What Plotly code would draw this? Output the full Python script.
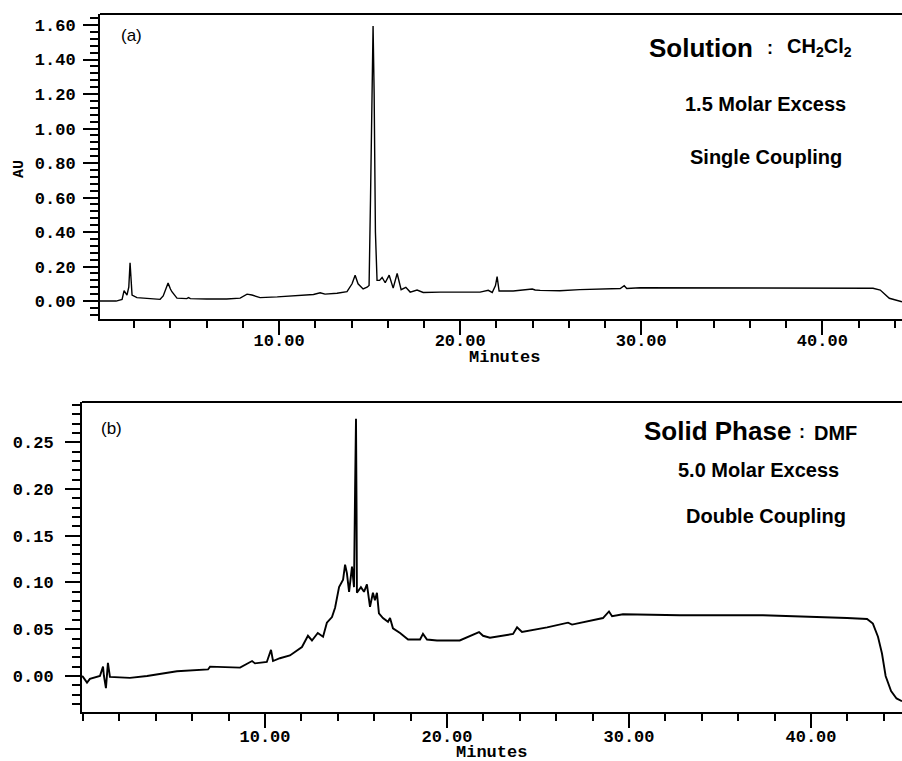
import plotly.graph_objects as go

# ---- Data ----
# (a) Solution : CH2Cl2
a_time = [0.11, 1.0, 1.33, 1.44, 1.6, 1.7, 1.77, 1.83, 1.88, 2.15, 2.87, 3.43, 3.6, 3.7,
          3.87, 4.0, 4.08, 4.36, 4.9, 5.0, 5.1, 6.0, 7.1, 7.85, 8.1, 8.23, 8.5, 8.95,
          9.9, 11.0, 11.9, 12.27, 12.54, 13.2, 13.75, 14.03, 14.2, 14.36, 14.64, 14.86,
          14.97, 15.05, 15.12, 15.19, 15.25, 15.32, 15.41, 15.55, 15.69, 15.86, 16.08,
          16.3, 16.52, 16.74, 17.0, 17.24, 17.62, 17.96, 18.9, 21.1, 21.55, 21.77,
          21.95, 22.04, 22.15, 22.93, 23.98, 24.14, 24.42, 25.5, 26.6, 28.84, 29.06,
          29.2, 29.94, 35.47, 42.8, 43.2, 43.7, 44.4]
a_au = [0.0, 0.0, 0.01, 0.06, 0.035, 0.08, 0.222, 0.08, 0.035, 0.02, 0.014, 0.01, 0.03, 0.054,
        0.104, 0.07, 0.054, 0.017, 0.014, 0.02, 0.014, 0.012, 0.012, 0.017, 0.035, 0.04, 0.035, 0.02,
        0.024, 0.03, 0.038, 0.048, 0.04, 0.045, 0.055, 0.1, 0.15, 0.1, 0.07, 0.08,
        0.09, 0.6, 1.3, 1.594, 1.2, 0.4, 0.12, 0.12, 0.137, 0.106, 0.15,
        0.075, 0.16, 0.066, 0.08, 0.052, 0.064, 0.05, 0.052, 0.052, 0.062, 0.05,
        0.09, 0.142, 0.058, 0.058, 0.07, 0.064, 0.062, 0.06, 0.066, 0.073, 0.089,
        0.073, 0.077, 0.075, 0.074, 0.064, 0.016, -0.004]

# (b) Solid Phase : DMF
b_time = [-0.05, 0.0, 0.22, 0.38, 0.93, 1.1, 1.15, 1.26, 1.37, 1.48, 2.58, 3.52, 5.16, 6.43,
          6.87, 6.98, 8.63, 9.29, 9.45, 10.1, 10.33, 10.44, 10.82, 11.37, 12.03, 12.36,
          12.58, 12.9, 13.19, 13.4, 13.68, 13.85, 14.07, 14.29, 14.4, 14.5, 14.62, 14.78,
          14.89, 14.95, 15.0, 15.03, 15.05, 15.27, 15.44, 15.6, 15.77, 15.93, 16.04, 16.15,
          16.26, 16.48, 16.76, 16.87, 17.03, 17.42, 17.86, 18.52, 18.68, 18.9, 19.45, 20.7,
          21.4, 21.76, 21.98, 22.36, 23.63, 23.85, 24.12, 25.5, 26.65, 26.87, 28.57, 28.9,
          29.07, 29.67, 32.8, 37.36, 41.98, 43.08, 43.4, 43.68, 43.9, 44.1, 44.4, 44.7, 45.0]
b_au = [0.0, -0.001, -0.007, -0.003, 0.0, 0.01, 0.0, -0.013, 0.014, -0.001, -0.002, 0.0, 0.005, 0.006,
        0.007, 0.01, 0.009, 0.016, 0.0135, 0.015, 0.028, 0.016, 0.019, 0.022, 0.031, 0.043,
        0.038, 0.046, 0.042, 0.057, 0.063, 0.073, 0.095, 0.103, 0.119, 0.11, 0.09, 0.117,
        0.095, 0.2, 0.275, 0.18, 0.089, 0.095, 0.09, 0.098, 0.074, 0.089, 0.081, 0.089,
        0.067, 0.062, 0.058, 0.062, 0.051, 0.046, 0.039, 0.039, 0.045, 0.039, 0.038, 0.038,
        0.044, 0.047, 0.043, 0.041, 0.045, 0.052, 0.047, 0.052, 0.057, 0.055, 0.062, 0.069,
        0.064, 0.066, 0.065, 0.065, 0.062, 0.061, 0.056, 0.042, 0.024, 0.0, -0.016, -0.024, -0.027]

x_ticks = [10, 20, 30, 40]
x_tick_labels = ["10.00", "20.00", "30.00", "40.00"]
a_y_ticks = [0.0, 0.2, 0.4, 0.6, 0.8, 1.0, 1.2, 1.4, 1.6]
a_y_labels = ["0.00", "0.20", "0.40", "0.60", "0.80", "1.00", "1.20", "1.40", "1.60"]
b_y_ticks = [0.0, 0.05, 0.10, 0.15, 0.20, 0.25]
b_y_labels = ["0.00", "0.05", "0.10", "0.15", "0.20", "0.25"]

W, H = 902, 761
def px(x):
    return x / W
def py(y):
    return 1 - y / H

MONO = "Liberation Mono, Courier New, monospace"
SANS = "Liberation Sans, Arial, Helvetica, sans-serif"

fig = go.Figure()
fig.add_trace(go.Scatter(x=a_time, y=a_au, mode="lines", xaxis="x", yaxis="y",
                         line=dict(color="black", width=1.4), showlegend=False))
fig.add_trace(go.Scatter(x=b_time, y=b_au, mode="lines", xaxis="x2", yaxis="y2",
                         line=dict(color="black", width=1.9), showlegend=False))

tickfont = dict(family=MONO, size=17, color="black", weight="bold")

def xaxis(domain, anchor, rng, standoff):
    return dict(domain=domain, anchor=anchor, range=rng, tickvals=x_ticks, ticktext=x_tick_labels,
                ticks="outside", ticklen=14, tickwidth=1.6, tickcolor="black",
                showline=True, linecolor="black", linewidth=2, showgrid=False, zeroline=False,
                tickfont=tickfont, ticklabelstandoff=standoff,
                minor=dict(dtick=2, tick0=0, ticks="outside", ticklen=7, tickwidth=1.5,
                           tickcolor="black", showgrid=False))

def yaxis(domain, anchor, rng, vals, labels, mdt, standoff):
    return dict(domain=domain, anchor=anchor, range=rng, tickvals=vals, ticktext=labels,
                ticks="outside", ticklen=15, tickwidth=1.6, tickcolor="black",
                showline=True, linecolor="black", linewidth=2, showgrid=False, zeroline=False,
                tickfont=tickfont, ticklabelstandoff=standoff,
                minor=dict(dtick=mdt, tick0=0, ticks="outside", ticklen=8, tickwidth=1.5,
                           tickcolor="black", showgrid=False))

fig.update_layout(
    width=W, height=H, autosize=False,
    margin=dict(l=0, r=0, t=0, b=0),
    paper_bgcolor="white", plot_bgcolor="white",
    xaxis=xaxis([px(100), 1.0], "y", [0.11, 44.4], -9),
    yaxis=yaxis([py(319), py(14)], "x", [-0.104, 1.664], a_y_ticks, a_y_labels, 0.04, 4),
    xaxis2=xaxis([px(82), 1.0], "y2", [-0.055, 45.0], -6),
    yaxis2=yaxis([py(712), py(402)], "x2", [-0.0385, 0.293], b_y_ticks, b_y_labels, 0.01, 8),
)

# top frame lines
for xr, yr in (("x", "y"), ("x2", "y2")):
    fig.add_shape(type="line", xref=f"{xr} domain", yref=f"{yr} domain", x0=0, x1=1, y0=1, y1=1,
                  line=dict(color="black", width=2))

def ann(text, x, y, size, family=SANS, bold=True, xanchor="center", angle=0):
    fig.add_annotation(text=text, x=px(x), y=py(y), xref="paper", yref="paper",
                       xanchor=xanchor, yanchor="middle", showarrow=False, textangle=angle,
                       font=dict(family=family, size=size, color="black",
                                 weight="bold" if bold else "normal"))

ann("(a)", 131, 36, 17, bold=False)
ann("(b)", 111, 428, 17, bold=False)
ann("AU", 19, 169, 15, family=MONO, angle=-90)
ann("Minutes", 505, 357, 17, family=MONO)
ann("Minutes", 492, 752, 17, family=MONO)

ann("Solution", 647, 48, 26, xanchor="left")
ann(":", 770, 48, 18)
ann("CH<sub>2</sub>Cl<sub>2</sub>", 785, 48, 20, xanchor="left")
ann("1.5 Molar Excess", 765, 104, 20)
ann("Single Coupling", 766, 157, 20)

ann("Solid Phase", 642, 431, 26, xanchor="left")
ann(":", 802, 432, 18)
ann("DMF", 812, 433, 20, xanchor="left")
ann("5.0 Molar Excess", 758, 470, 20)
ann("Double Coupling", 766, 516, 20)

fig.write_html("out.html", config={"displayModeBar": False},
               post_script="document.body.style.margin='0';document.body.style.overflow='hidden';")
